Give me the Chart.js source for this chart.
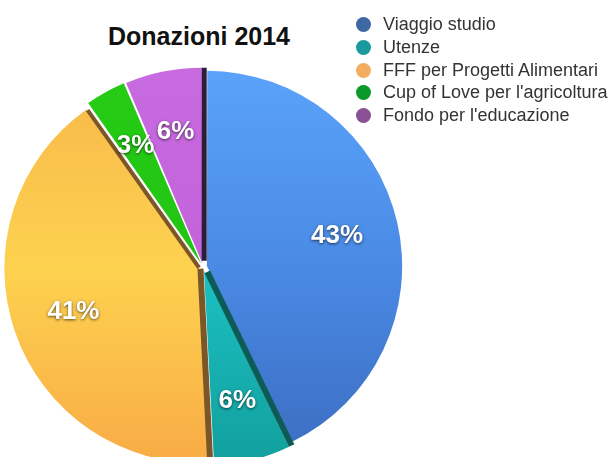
<!DOCTYPE html>
<html>
<head>
<meta charset="utf-8">
<script src="https://cdn.jsdelivr.net/npm/chart.js@4/dist/chart.umd.min.js"></script>
<style>
  html, body { margin: 0; padding: 0; background: #fff; }
  body { width: 611px; height: 457px; overflow: hidden; position: relative;
         font-family: "Liberation Sans", Arial, Helvetica, sans-serif; }
  #titolo { position: absolute; left: 0; top: 24px; width: 398px; text-align: center;
            font-size: 25px; line-height: 25px; font-weight: bold; color: #111; }
  #wrap { position: absolute; left: 2px; top: 66px; width: 402px; height: 402px; }
  #legenda { position: absolute; left: 356px; top: 13px; }
  .riga { position: relative; height: 22.75px; line-height: 22.75px; font-size: 18px; color: #333; white-space: nowrap; }
  .pallino { position: absolute; left: 0; top: 4px; width: 15px; height: 15px; border-radius: 50%; }
  .testo { position: absolute; left: 27px; top: 0; }
</style>
</head>
<body>
<div id="titolo">Donazioni 2014</div>
<div id="wrap"><canvas id="torta" width="402" height="402"></canvas></div>
<div id="legenda"></div>
<script>
// dati
const categorie = ['Viaggio studio', 'Utenze', 'FFF per Progetti Alimentari', "Cup of Love per l'agricoltura", "Fondo per l'educazione"];
const valori = [42.8, 6.4, 41.0, 3.4, 6.4];

// colori
const coloriLegenda = ['#3d68a3', '#1a9a9c', '#f2ae5e', '#0a9a2a', '#8b5096'];
const coloreAlto  = ['#5aa3fb', '#20cacc', '#f7b74a', '#25cc15', '#c86ae0'];
const coloreMezzo = ['#4a8ae4', '#1cc0c2', '#fdd24f', '#22c413', '#c263da'];
const coloreBasso = ['#3b6cc0', '#119e9c', '#f8aa45', '#1eb010', '#b058cc'];

// legenda html
const leg = document.getElementById('legenda');
categorie.forEach((c, i) => {
  const r = document.createElement('div');
  r.className = 'riga';
  r.innerHTML = '<span class="pallino" style="background:' + coloriLegenda[i] + '"></span><span class="testo"></span>';
  r.querySelector('.testo').textContent = c;
  leg.appendChild(r);
});

// facce laterali scure (effetto 3D)
const lati = [
  { i: 1, lato: 'start', colore: '#0c5b57', w: 6 },
  { i: 2, lato: 'start', colore: '#7b5628', w: 6 },
  { i: 2, lato: 'end',   colore: '#7b5628', w: 4 },
  { i: 4, lato: 'end',   colore: '#2d1e35', w: 5 }
];

function centroFetta(arc) {
  const off = (arc.options.offset || 0) / 4;
  const circ = arc.endAngle - arc.startAngle;
  const fix = 1 - Math.sin(Math.min(Math.PI, circ));
  const t = off + off * fix;
  const half = (arc.startAngle + arc.endAngle) / 2;
  return { x: arc.x + Math.cos(half) * t, y: arc.y + Math.sin(half) * t, half: half };
}

const pluginTorta = {
  id: 'torta3d',
  afterDatasetsDraw(chart) {
    const ctx = chart.ctx;
    const arcs = chart.getDatasetMeta(0).data;
    ctx.save();
    lati.forEach(l => {
      const arc = arcs[l.i];
      const c = centroFetta(arc);
      const a = l.lato === 'start' ? arc.startAngle : arc.endAngle;
      const nx = l.lato === 'start' ? Math.sin(a) : -Math.sin(a);
      const ny = l.lato === 'start' ? -Math.cos(a) : Math.cos(a);
      const R = arc.outerRadius;
      ctx.beginPath();
      ctx.moveTo(c.x, c.y);
      ctx.lineTo(c.x + Math.cos(a) * R, c.y + Math.sin(a) * R);
      ctx.lineTo(c.x + Math.cos(a) * R + nx * l.w, c.y + Math.sin(a) * R + ny * l.w);
      ctx.lineTo(c.x + nx * l.w, c.y + ny * l.w);
      ctx.closePath();
      ctx.fillStyle = l.colore;
      ctx.fill();
    });
    // etichette percentuali
    ctx.font = 'bold 26px "Liberation Sans", Arial, sans-serif';
    ctx.textAlign = 'center';
    ctx.textBaseline = 'middle';
    ctx.fillStyle = '#fff';
    ctx.shadowColor = 'rgba(0,0,0,0.65)';
    ctx.shadowBlur = 3;
    ctx.shadowOffsetX = 0;
    ctx.shadowOffsetY = 1;
    arcs.forEach((arc, i) => {
      const c = centroFetta(arc);
      const r = arc.outerRadius * 0.68;
      ctx.fillText(Math.round(valori[i]) + '%', c.x + Math.cos(c.half) * r, c.y + Math.sin(c.half) * r);
    });
    ctx.restore();
  }
};

function sfumatura(context) {
  const chart = context.chart;
  const area = chart.chartArea;
  const i = context.dataIndex;
  if (!area) return coloreMezzo[i];
  const g = chart.ctx.createLinearGradient(0, area.top, 0, area.bottom);
  g.addColorStop(0, coloreAlto[i]);
  g.addColorStop(0.5, coloreMezzo[i]);
  g.addColorStop(1, coloreBasso[i]);
  return g;
}

new Chart(document.getElementById('torta'), {
  type: 'pie',
  data: {
    labels: categorie,
    datasets: [{
      data: valori,
      backgroundColor: sfumatura,
      borderWidth: 0,
      offset: 16
    }]
  },
  options: {
    responsive: false,
    animation: false,
    layout: { padding: 0 },
    plugins: {
      legend: { display: false },
      tooltip: { enabled: false },
      title: { display: false }
    }
  },
  plugins: [pluginTorta]
});
</script>
</body>
</html>
